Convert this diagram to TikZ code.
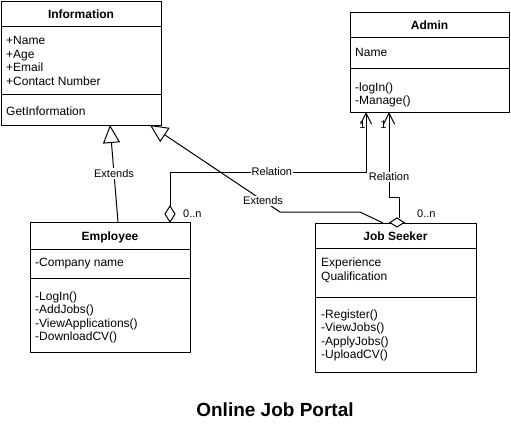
\documentclass[tikz,border=0pt]{standalone}
\usepackage{fontspec}
\setmainfont{Liberation Sans}
\usetikzlibrary{arrows.meta,calc}
\begin{document}
\begin{tikzpicture}[x=1pt,y=-1pt,
  cls/.style={draw, line width=1pt, fill=white, anchor=north west, inner sep=0pt, outer sep=0pt},
  attr/.style={anchor=base west, inner sep=0pt, font=\fontsize{12}{14}\selectfont},
  ttl/.style={anchor=base, inner sep=0pt, font=\fontsize{12}{14}\selectfont\bfseries},
  lbl/.style={fill=white, inner sep=1pt, font=\fontsize{11}{13}\selectfont},
  mult/.style={inner sep=0pt, font=\fontsize{11}{13}\selectfont},
  sep/.style={line width=1pt},
  conn/.style={line width=1pt},
  ext/.style={conn, -{Triangle[open,length=18pt,width=17pt]}},
  rel/.style={conn, -{Straight Barb[length=11pt,width=11pt]}},
  agg/.style={draw, line width=1pt, fill=white},
]
\useasboundingbox (0,0) rectangle (511,424);

% ---------- Information ----------
\node[cls, minimum width=160pt, minimum height=124pt] (info) at (1,1) {};
\draw[sep] (info.west |- 0,26) -- (info.east |- 0,26);
\draw[sep] (info.west |- 0,94) -- (info.east |- 0,94);
\node[ttl] (infot) at (81,18.5) {Information};
\node[attr] (ia1) at (6,44.5) {+Name};
\node[attr] (ia2) at (6,58) {+Age};
\node[attr] (ia3) at (6,71.5) {+Email};
\node[attr] (ia4) at (6,85.5) {+Contact Number};
\node[attr] (im1) at (6,115) {GetInformation};

% ---------- Admin ----------
\node[cls, minimum width=159pt, minimum height=100pt] (admin) at (350,12) {};
\draw[sep] (admin.west |- 0,37) -- (admin.east |- 0,37);
\draw[sep] (admin.west |- 0,68) -- (admin.east |- 0,68);
\node[ttl] (admint) at (429.5,29.5) {Admin};
\node[attr] (aa1) at (355,56.5) {Name};
\node[attr] (am1) at (355,91) {-logIn()};
\node[attr] (am2) at (355,104) {-Manage()};

% ---------- Employee ----------
\node[cls, minimum width=160pt, minimum height=130pt] (emp) at (30,222) {};
\draw[sep] (emp.west |- 0,249) -- (emp.east |- 0,249);
\draw[sep] (emp.west |- 0,278) -- (emp.east |- 0,278);
\node[ttl] (empt) at (110,240) {Employee};
\node[attr] (ea1) at (35,266.5) {-Company name};
\node[attr] (em1) at (35,300.5) {-LogIn()};
\node[attr] (em2) at (35,313.5) {-AddJobs()};
\node[attr] (em3) at (35,327) {-ViewApplications()};
\node[attr] (em4) at (35,340.5) {-DownloadCV()};

% ---------- Job Seeker ----------
\node[cls, minimum width=161pt, minimum height=149pt] (js) at (315,223) {};
\draw[sep] (js.west |- 0,248) -- (js.east |- 0,248);
\draw[sep] (js.west |- 0,297) -- (js.east |- 0,297);
\node[ttl] (jst) at (395.5,240.5) {Job Seeker};
\node[attr] (ja1) at (321,266.5) {Experience};
\node[attr] (ja2) at (321,280) {Qualification};
\node[attr] (jm1) at (321,318.5) {-Register()};
\node[attr] (jm2) at (321,331.5) {-ViewJobs()};
\node[attr] (jm3) at (321,345) {-ApplyJobs()};
\node[attr] (jm4) at (321,358.5) {-UploadCV()};

% ---------- connector points ----------
\coordinate (e1s) at (118,0 |- emp.north);
\coordinate (e1t) at (110,0 |- info.south);
\coordinate (e2s) at (383,0 |- js.north);
\coordinate (e2a) at (360,212);
\coordinate (e2b) at (280,212);
\coordinate (e2t) at (150,0 |- info.south);
\coordinate (r1d) at (170,0 |- emp.north);
\coordinate (r1t) at (366,0 |- admin.south);
\coordinate (r2d) at (397,222.5);
\coordinate (r2t) at (389,0 |- admin.south);

% ---------- Extends (Employee -> Information) ----------
\draw[ext] (e1s) -- node[lbl, pos=0.5] (l1) {Extends} (e1t);

% ---------- Extends (Job Seeker -> Information) ----------
\draw[ext] (e2s) -- (e2a) -- (e2b) -- node[lbl, pos=0.13] (l2) {Extends} (e2t);

% ---------- Relation (Employee -> Admin) ----------
\draw[rel] ($(r1d)+(0,-16)$) -- (170,172) -- node[lbl, pos=0.52] (l3) {Relation} (366,172) -- (r1t);
\draw[agg] (r1d) -- ++(5,-8) -- ++(-5,-8) -- ++(-5,8) -- cycle;
\node[mult, anchor=west] (m1) at (183,214) {0..n};
\node[mult] (m2) at (362.5,125) {1};

% ---------- Relation (Job Seeker -> Admin) ----------
\draw[rel] (399.5,218) -- (399.5,197) -- (389,197) -- node[lbl, pos=0.24] (l4) {Relation} (r2t);
\draw[agg] ($(r2d)+(-7,0)$) -- ++(7,-4.5) -- ++(7,4.5) -- ++(-7,4.5) -- cycle;
\node[mult, anchor=west] (m3) at (417,214) {0..n};
\node[mult] (m4) at (383.5,125) {1};

% ---------- Title ----------
\node[inner sep=0pt, font=\fontsize{19}{22}\selectfont\bfseries] (title) at (275,410) {Online Job Portal};
\end{tikzpicture}
\end{document}
